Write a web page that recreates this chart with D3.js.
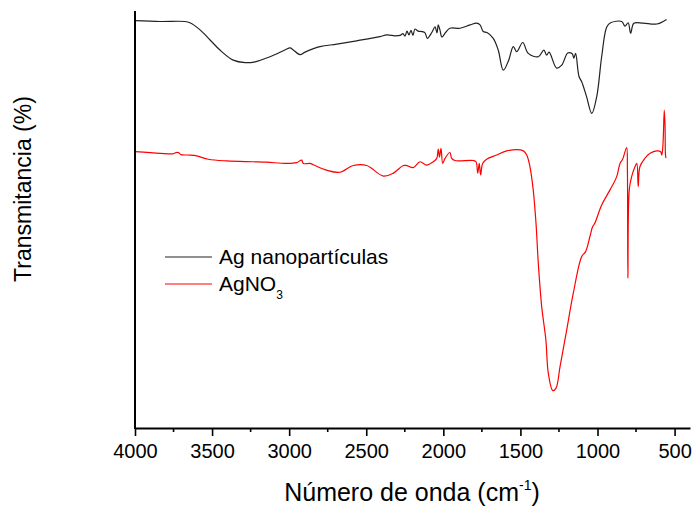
<!DOCTYPE html>
<html>
<head>
<meta charset="utf-8">
<script src="https://cdn.jsdelivr.net/npm/d3@7"></script>
<style>
  body { margin: 0; background: #fff; }
  text { font-family: "Liberation Sans", Arial, sans-serif; fill: #000; }
</style>
</head>
<body>
<div class="ChartWrapper"></div>
<script>
// FTIR spectra, wavenumber (cm-1) and transmittance (arbitrary %)
const agNanoWave = [4000, 3837, 3676, 3644, 3578, 3513, 3449, 3363, 3286, 3221, 3124, 3028, 2994, 2975, 2930, 2897,
  2800, 2691, 2562, 2411, 2367, 2314, 2281, 2262, 2249, 2236, 2223, 2210, 2197, 2184, 2164, 2138, 2119, 2104,
  2073, 2054, 2041, 2033, 2022, 2009, 1983, 1957, 1891, 1827, 1784, 1762, 1741, 1717, 1676, 1644, 1611, 1578,
  1546, 1524, 1485, 1449, 1384, 1348, 1330, 1314, 1265, 1232, 1193, 1164, 1153, 1142, 1120, 1103, 1071, 1037,
  1005, 973, 940, 915, 843, 822, 801, 785, 764, 703, 616, 552];
const agNanoT = [97.7, 97.5, 97.5, 97.2, 95.5, 93.1, 90.7, 88.3, 87.7, 87.9, 89.1, 90.7, 91.2, 90.8, 89.6, 90.2,
  91.5, 92.1, 92.9, 93.9, 94.3, 94.1, 94.2, 94.6, 94.0, 95.2, 94.3, 95.4, 94.2, 95.7, 95.2, 95.1, 94.8, 93.5,
  95.0, 96.2, 94.8, 96.7, 95.5, 93.8, 95.0, 95.9, 95.9, 96.7, 97.1, 96.7, 95.1, 94.9, 93.5, 90.7, 85.9, 88.1,
  91.5, 90.3, 92.5, 89.9, 89.1, 90.7, 89.5, 90.2, 86.4, 87.1, 90.0, 89.8, 88.8, 89.9, 84.4, 83.2, 79.6, 75.6,
  79.6, 89.1, 96.2, 97.2, 97.5, 96.4, 97.2, 94.7, 97.1, 97.1, 96.9, 98.0];

const agno3Wave = [4000, 3837, 3751, 3734, 3719, 3702, 3644, 3600, 3524, 3405, 3232, 3146, 3017, 2951, 2919, 2908,
  2865, 2844, 2757, 2670, 2584, 2497, 2389, 2324, 2260, 2238, 2195, 2151, 2108, 2065, 2043, 2033, 2025, 2015,
  2004, 1989, 1957, 1946, 1925, 1805, 1788, 1777, 1767, 1758, 1745, 1719, 1654, 1589, 1481, 1459, 1438, 1417,
  1399, 1384, 1362, 1335, 1319, 1290, 1269, 1243, 1200, 1157, 1103, 1077, 1049, 1032, 1017, 973, 919, 876,
  854, 837, 811, 806, 803, 794, 779, 757, 745, 736, 725, 693, 659, 616, 590, 583, 577, 573, 567, 562, 558, 555];
const agno3T = [66.5, 66.1, 66.0, 66.3, 66.3, 65.8, 65.7, 65.5, 64.7, 64.3, 64.1, 64.0, 63.7, 63.9, 64.5, 63.7,
  63.7, 63.4, 62.1, 61.6, 63.2, 63.2, 60.7, 61.4, 63.2, 63.2, 62.7, 64.1, 63.3, 64.1, 64.9, 67.1, 65.2, 67.3,
  63.7, 64.9, 66.3, 64.9, 64.4, 64.4, 64.1, 61.4, 63.7, 61.0, 63.7, 64.7, 65.7, 66.7, 66.7, 65.7, 62.9, 57.4,
  49.5, 39.9, 29.6, 21.7, 13.7, 9.6, 10.2, 15.3, 24.0, 32.8, 41.5, 42.7, 46.3, 48.6, 49.5, 53.8, 57.4, 60.5,
  63.7, 64.7, 67.5, 62.1, 36.4, 57.4, 60.5, 62.9, 63.7, 58.2, 62.9, 64.9, 66.1, 66.7, 66.5, 65.7, 67.3, 70.1,
  76.4, 72.9, 65.3, 65.0];

const xTicks = [4000, 3500, 3000, 2500, 2000, 1500, 1000, 500];
const xMinorTicks = [3750, 3250, 2750, 2250, 1750, 1250, 750];
const seriesNames = ['Ag nanopartículas', 'AgNO'];
const seriesColors = ['#222222', '#ff0000'];

const W = 694, H = 508;
const M = { left: 135, right: 4, top: 11, bottom: 80 };

const svg = d3.select('.ChartWrapper')
  .append('svg')
  .attr('width', W)
  .attr('height', H);

const x = d3.scaleLinear().domain([4000, 400]).range([M.left, W - M.right]);
const y = d3.scaleLinear().domain([0.7, 100]).range([H - M.bottom, M.top]);

const line = d3.line()
  .curve(d3.curveCatmullRom.alpha(0.5))
  .x(d => x(d[0]))
  .y(d => y(d[1]));

const series = [
  d3.zip(agNanoWave, agNanoT),
  d3.zip(agno3Wave, agno3T),
];

svg.selectAll('path.spectrum')
  .data(series)
  .enter()
  .append('path')
  .classed('spectrum', true)
  .attr('d', line)
  .attr('fill', 'none')
  .attr('stroke', (d, i) => seriesColors[i])
  .attr('stroke-width', 1.2)
  .attr('stroke-linejoin', 'round');

// x axis
const xAxis = svg.append('g')
  .attr('transform', `translate(0, ${H - M.bottom})`)
  .call(d3.axisBottom(x)
    .tickValues(xTicks)
    .tickFormat(d3.format('d'))
    .tickSize(8)
    .tickSizeOuter(0)
    .tickPadding(8));
xAxis.select('.domain').attr('stroke-width', 2);
xAxis.selectAll('.tick line').attr('stroke-width', 1.6);
xAxis.selectAll('.tick text')
  .style('font-size', '20px')
  .style('font-family', '"Liberation Sans", Arial, sans-serif');

svg.append('g')
  .attr('transform', `translate(0, ${H - M.bottom})`)
  .selectAll('line')
  .data(xMinorTicks)
  .enter()
  .append('line')
  .attr('x1', d => x(d))
  .attr('x2', d => x(d))
  .attr('y1', 0)
  .attr('y2', 4)
  .attr('stroke', '#000')
  .attr('stroke-width', 1.6);

// y axis, line only
svg.append('line')
  .attr('x1', M.left).attr('x2', M.left)
  .attr('y1', M.top).attr('y2', H - M.bottom + 1)
  .attr('stroke', '#000')
  .attr('stroke-width', 2);

// axis titles
const xTitle = svg.append('text')
  .attr('x', 412)
  .attr('y', 501)
  .attr('text-anchor', 'middle')
  .style('font-size', '25px');
xTitle.append('tspan').text('Número de onda (cm');
xTitle.append('tspan').attr('dy', -11).style('font-size', '14px').text('-1');
xTitle.append('tspan').attr('dy', 11).text(')');

svg.append('text')
  .attr('transform', 'translate(31, 189) rotate(-90)')
  .attr('text-anchor', 'middle')
  .style('font-size', '23px')
  .text('Transmitancia (%)');

// legend
const legend = svg.append('g').attr('transform', 'translate(165, 257)');
const item = legend.selectAll('g')
  .data(seriesNames)
  .enter()
  .append('g')
  .attr('transform', (d, i) => `translate(0, ${i * 27})`);
item.append('line')
  .attr('x1', 0).attr('x2', 47)
  .attr('stroke', (d, i) => seriesColors[i])
  .attr('stroke-width', 1.2);
const label = item.append('text')
  .attr('x', 54)
  .attr('y', 7)
  .style('font-size', '21px');
label.append('tspan').text(d => d);
label.filter((d, i) => i === 1)
  .append('tspan')
  .attr('dy', 8)
  .style('font-size', '12px')
  .text('3');
</script>
</body>
</html>
